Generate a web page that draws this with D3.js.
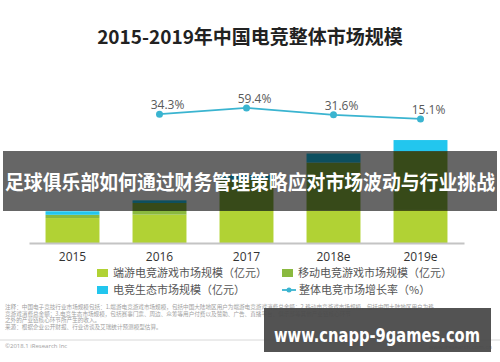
<!DOCTYPE html>
<html>
<head>
<meta charset="utf-8">
<script src="https://cdn.jsdelivr.net/npm/d3@7"></script>
<style>
body{margin:0;background:#fff;}
svg{display:block;font-family:"Noto Sans CJK SC","Noto Sans",sans-serif;}
</style>
</head>
<body>
<svg width="500" height="362"></svg>
<script>
// 数据
const years = ['2015', '2016', '2017', '2018e', '2019e']
const pcGame = [268, 305, 345, 350, 355]
const mobileGame = [35, 125, 335, 514, 631]
const ecoMarket = [38, 28, 50, 97, 120]
const growthYears = ['2016', '2017', '2018e', '2019e']
const growth = [34.3, 59.4, 31.6, 15.1]
const seriesNames = ['端游电竞游戏市场规模（亿元）', '移动电竞游戏市场规模（亿元）', '电竞生态市场规模（亿元）', '整体电竞市场增长率（%）']
const notes = [
  '注释：中国电子竞技行业市场规模包括：1.端游电竞游戏市场规模，包括中国大陆地区用户为端游电竞游戏消费总金额；2.移动电竞游戏市场规模，包括中国大陆地区用户为移',
  '竞游戏消费总金额；3.电竞生态市场规模，包括赛事门票、周边、众筹等用户付费以及赞助、广告、直播平台、俱乐部等其他产业链核心环节',
  '之外的产业链核心环节所产生的收入。',
  '来源：根据企业公开财报、行业访谈及艾瑞统计预测模型估算。'
]

const colors = ['#b1d234', '#8ab93f', '#22c6ee']
const lineColor = '#3ab4d0'

const svg = d3.select('svg')

const table = years.map(function (y, i) {
  return { year: y, pc: pcGame[i], mobile: mobileGame[i], eco: ecoMarket[i] }
})
const stack = d3.stack().keys(['pc', 'mobile', 'eco'])(table)

const xScale = d3.scaleBand().domain(years).range([29, 464]).paddingInner(0.38).paddingOuter(0.19)
const yScale = d3.scaleLinear().domain([0, 1200]).range([243, 131.3])
const y2 = d3.scaleLinear().domain([0, 100]).range([122.7, 97.9])

// 标题
svg.append('text')
  .attr('x', 250).attr('y', 44)
  .attr('text-anchor', 'middle')
  .attr('font-size', 19).attr('font-weight', 'bold')
  .attr('fill', '#222')
  .text('2015-2019年中国电竞整体市场规模')

// 柱子
svg.append('g').selectAll('g')
  .data(stack)
  .join('g')
  .attr('fill', (d, i) => colors[i])
  .selectAll('rect')
  .data(d => d)
  .join('rect')
  .attr('x', d => xScale(d.data.year))
  .attr('y', d => yScale(d[1]))
  .attr('width', xScale.bandwidth())
  .attr('height', d => yScale(d[0]) - yScale(d[1]))

// x轴
const xAxis = svg.append('g')
  .attr('transform', 'translate(0,243)')
  .call(d3.axisBottom(xScale).tickSize(0).tickPadding(9))
xAxis.select('.domain').attr('stroke', '#c4c4c4').attr('stroke-width', 2)
xAxis.selectAll('text').attr('font-size', 12).attr('fill', '#333')
  .attr('font-family', '"Open Sans", sans-serif')

// 增长率折线
const pts = growthYears.map((y, i) => ({ year: y, v: growth[i] }))
const cx = d => xScale(d.year) + xScale.bandwidth() / 2
svg.append('path')
  .datum(pts)
  .attr('fill', 'none')
  .attr('stroke', lineColor)
  .attr('stroke-width', 1.8)
  .attr('d', d3.line().x(cx).y(d => y2(d.v)))
svg.append('g').selectAll('circle')
  .data(pts)
  .join('circle')
  .attr('cx', cx)
  .attr('cy', d => y2(d.v))
  .attr('r', 3.5)
  .attr('fill', lineColor)
svg.append('g').selectAll('text')
  .data(pts)
  .join('text')
  .attr('x', d => cx(d) + 8)
  .attr('y', d => y2(d.v) - 5)
  .attr('text-anchor', 'middle')
  .attr('font-size', 12)
  .attr('fill', '#595959')
  .attr('font-family', '"Open Sans", sans-serif')
  .text(d => d.v.toFixed(1) + '%')

// 图例
const legendPos = [[97, 273], [282, 273], [97, 290], [282, 290]]
const legendColors = [colors[0], colors[1], colors[2], lineColor]
const lg = svg.append('g').selectAll('g')
  .data(seriesNames)
  .join('g')
  .attr('transform', (d, i) => 'translate(' + legendPos[i][0] + ',' + legendPos[i][1] + ')')
lg.filter((d, i) => i < 3).append('rect')
  .attr('x', 0).attr('y', -4).attr('width', 11).attr('height', 8)
  .attr('fill', (d, i) => legendColors[i])
lg.filter((d, i) => i === 3).append('line')
  .attr('x1', 0).attr('x2', 14).attr('y1', 0).attr('y2', 0)
  .attr('stroke', lineColor).attr('stroke-width', 1.8)
lg.filter((d, i) => i === 3).append('circle')
  .attr('cx', 7).attr('cy', 0).attr('r', 2.5).attr('fill', lineColor)
lg.append('text')
  .attr('x', (d, i) => i === 3 ? 17 : 16)
  .attr('y', 0)
  .attr('dy', '0.36em')
  .attr('font-size', 11)
  .attr('fill', '#555')
  .text(d => d)

// 注释
svg.append('g').selectAll('text')
  .data(notes)
  .join('text')
  .attr('x', 5)
  .attr('y', (d, i) => 309 + i * 6.5)
  .attr('font-size', 5.6)
  .attr('fill', '#a0a0a0')
  .text(d => d)
svg.append('line')
  .attr('x1', 0).attr('x2', 500).attr('y1', 340).attr('y2', 340)
  .attr('stroke', '#d8d8d8')
svg.append('text')
  .attr('x', 5).attr('y', 348)
  .attr('font-size', 6).attr('fill', '#a0a0a0')
  .attr('font-family', '"Open Sans", sans-serif')
  .text('©2018.1 iResearch Inc')
svg.append('text')
  .attr('x', 492).attr('y', 349)
  .attr('text-anchor', 'end')
  .attr('font-size', 6).attr('fill', '#a0a0a0')
  .attr('font-family', '"Open Sans", sans-serif')
  .text('www.iresearch.com.cn')

// 横幅
svg.append('rect')
  .attr('x', 3).attr('y', 151).attr('width', 494).attr('height', 60)
  .attr('fill', '#000').attr('opacity', 0.6)
svg.append('text')
  .attr('x', 250).attr('y', 190)
  .attr('text-anchor', 'middle')
  .attr('font-size', 20).attr('font-weight', 'bold')
  .attr('fill', '#fff')
  .attr('textLength', 490).attr('lengthAdjust', 'spacingAndGlyphs')
  .text('足球俱乐部如何通过财务管理策略应对市场波动与行业挑战')

// 水印
svg.append('rect')
  .attr('x', 264).attr('y', 308).attr('width', 227).attr('height', 44)
  .attr('fill', '#4a4a4a').attr('opacity', 0.95)
svg.append('text')
  .attr('x', 377).attr('y', 342)
  .attr('text-anchor', 'middle')
  .attr('font-size', 20).attr('font-weight', 'bold')
  .attr('fill', '#fff')
  .attr('font-family', '"DejaVu Sans", sans-serif')
  .attr('textLength', 206).attr('lengthAdjust', 'spacingAndGlyphs')
  .text('www.cnapp-9games.com')
</script>
</body>
</html>
